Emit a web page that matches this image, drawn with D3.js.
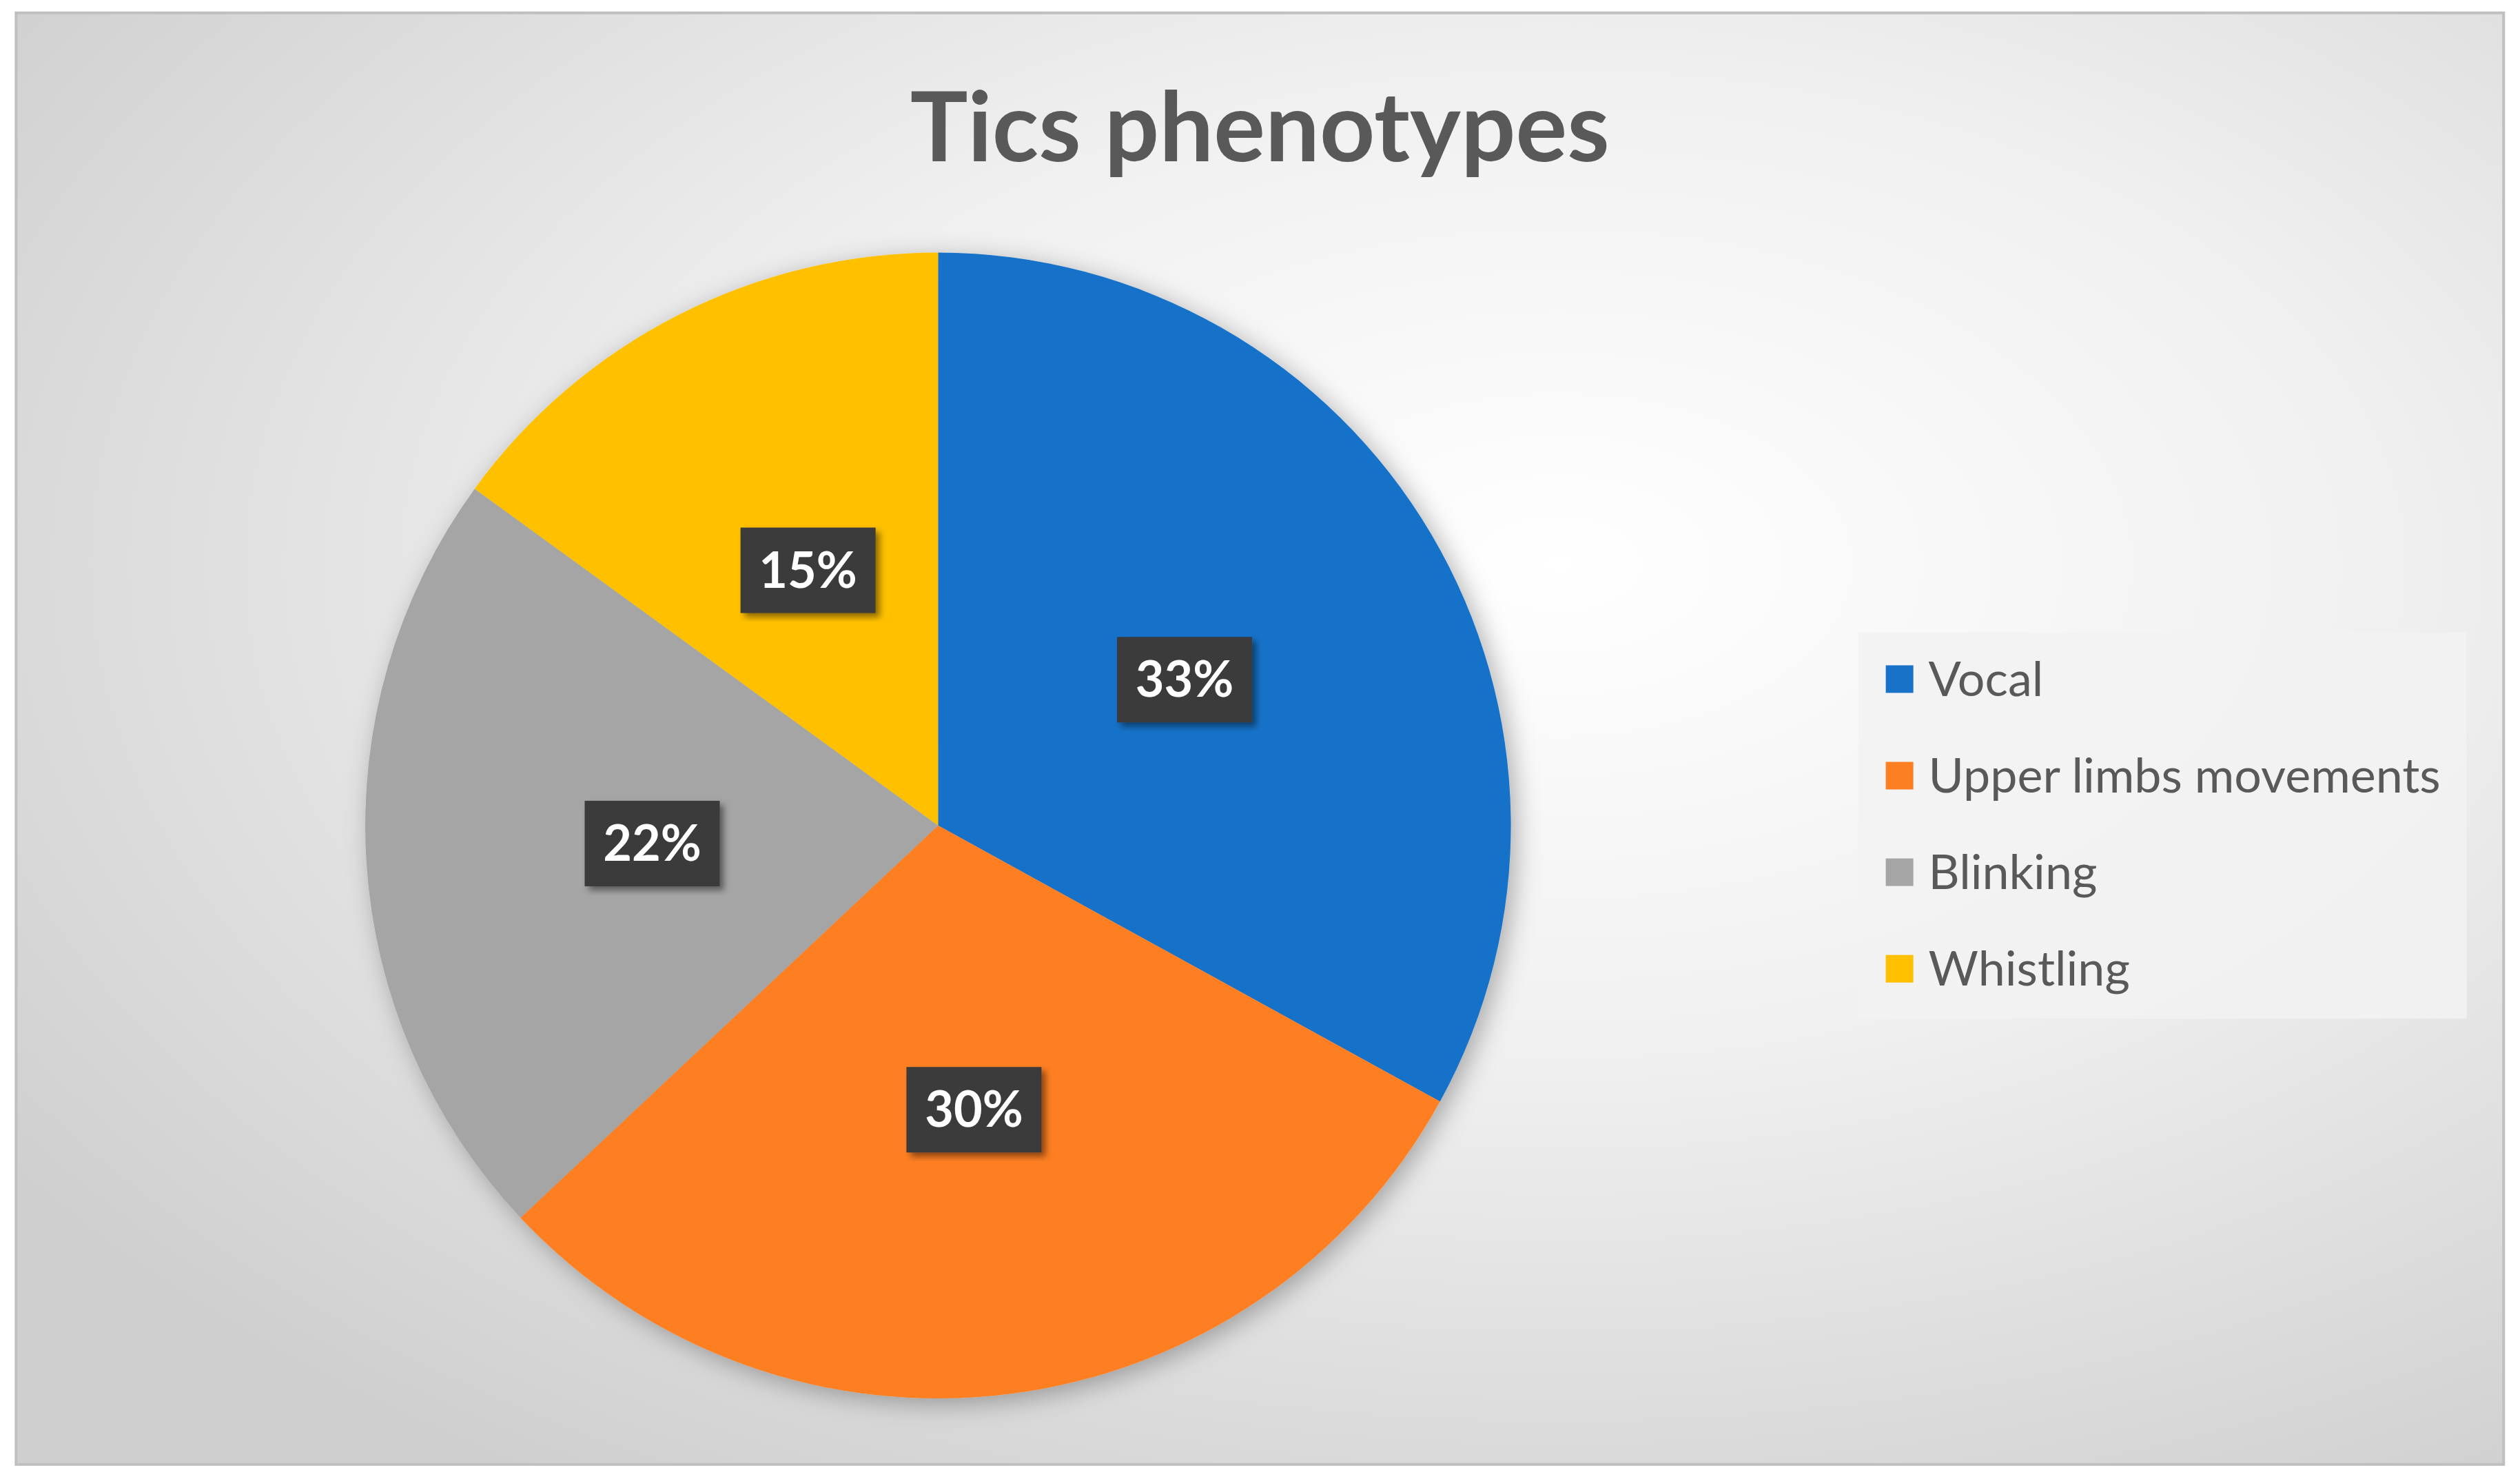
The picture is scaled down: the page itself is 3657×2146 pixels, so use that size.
<!DOCTYPE html>
<html><head><meta charset="utf-8">
<script src="https://cdn.jsdelivr.net/npm/d3@7"></script>
<style>body{margin:0;background:#fff}</style></head>
<body><svg id="c" width="3657" height="2146"></svg>
<script>
const categories=["Vocal","Upper limbs movements","Blinking","Whistling"];
const values=[33,30,22,15];
const colors=["#1872C8","#FD7F24","#A5A5A5","#FFC000"];
const title="Tics phenotypes";

const W=3657,H=2146,s=2.335;
const svg=d3.select("#c");
const defs=svg.append("defs");
const g=defs.append("radialGradient").attr("id","bg").attr("cx","0.62").attr("cy","0.38").attr("r","0.75");
g.append("stop").attr("offset","0").attr("stop-color","#ffffff");
g.append("stop").attr("offset","0.45").attr("stop-color","#f0f0f0");
g.append("stop").attr("offset","1").attr("stop-color","#cfcfcf");
const f=defs.append("filter").attr("id","sh").attr("x","-20%").attr("y","-20%").attr("width","140%").attr("height","140%");
f.append("feDropShadow").attr("dx",8).attr("dy",8).attr("stdDeviation",18).attr("flood-color","#000").attr("flood-opacity",0.3);
const f2=defs.append("filter").attr("id","sh2");
f2.append("feDropShadow").attr("dx",6).attr("dy",6).attr("stdDeviation",5).attr("flood-color","#000").attr("flood-opacity",0.45);

svg.append("rect").attr("x",10*s).attr("y",8*s).attr("width",(1556-10)*s).attr("height",(910-8)*s)
 .attr("fill","url(#bg)").attr("stroke","#bfbfbf").attr("stroke-width",4);

svg.append("text").attr("x",783*s).attr("y",100*s).attr("text-anchor","middle")
 .attr("font-family","Lato, 'Open Sans', sans-serif").attr("font-weight","bold").attr("font-size",140)
 .attr("fill","#595959").text(title);

const cx=583*s,cy=513*s,R=356*s;
const pie=d3.pie().sort(null).value(d=>d)(values);
const arc=d3.arc().innerRadius(0).outerRadius(R);
const pg=svg.append("g").attr("transform",`translate(${cx},${cy})`);
pg.append("g").attr("filter","url(#sh)").selectAll("path").data(pie).join("path")
 .attr("d",arc).attr("fill",(d,i)=>colors[i]);
const la=d3.arc().innerRadius(R*0.5).outerRadius(R*0.5);
const lab=pg.selectAll("g.l").data(pie).join("g").attr("transform",d=>`translate(${la.centroid(d)})`);
lab.append("rect").attr("x",-98).attr("y",-62).attr("width",196).attr("height",124)
 .attr("fill","#3a3a3a").attr("filter","url(#sh2)");
lab.append("text").attr("text-anchor","middle").attr("dy","0.35em")
 .attr("font-family","Lato, 'Open Sans', sans-serif").attr("font-weight","bold").attr("font-size",72)
 .attr("fill","#fff").text(d=>d.data+"%");

svg.append("rect").attr("x",1155*s).attr("y",393*s).attr("width",(1533-1155)*s).attr("height",(633-393)*s)
 .attr("fill","#f2f2f2").attr("opacity",0.85);
const lg=svg.selectAll("g.lg").data(categories).join("g").attr("transform",(d,i)=>`translate(${1172*s},${(422+60*i)*s})`);
lg.append("rect").attr("x",0).attr("y",-20).attr("width",40).attr("height",40).attr("fill",(d,i)=>colors[i]);
lg.append("text").attr("x",62).attr("dy","0.35em").attr("font-family","Lato, 'Open Sans', sans-serif")
 .attr("font-size",70).attr("fill","#595959").text(d=>d);
</script></body></html>
